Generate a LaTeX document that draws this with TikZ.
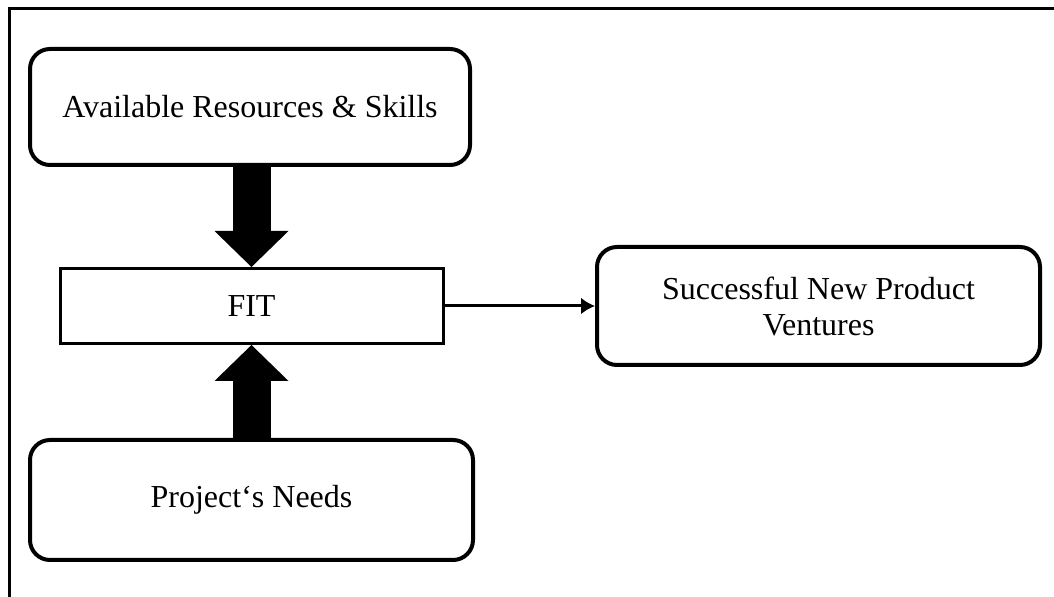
\documentclass[tikz,border=0pt]{standalone}
\usepackage{fontspec}
\setmainfont{Liberation Serif}
\usetikzlibrary{arrows.meta}
\tikzset{
    rbox/.style={draw, line width=2pt, rounded corners=10pt, align=center,
        font=\fontsize{16}{18}\selectfont},
    fitbox/.style={draw, line width=1.5pt, font=\fontsize{16}{18}\selectfont},
    bigarrow/.style={line width=19pt, -{Triangle[length=18pt,width=37pt,line width=0pt]}},
}

\begin{document}
\begin{tikzpicture}[x=0.5pt,y=-0.5pt]
			\useasboundingbox (0,0) rectangle (1054,597);
			\draw[line width=1.5pt] (9,597) -- (9,8.5) -- (1054,8.5);
			\node[rbox, minimum width=220pt, minimum height=58pt] (res) at (250,107) {Available Resources \& Skills};
			\node[fitbox, minimum width=191.5pt, minimum height=37.5pt] (fit) at (251.5,306) {FIT};
			\node[rbox, minimum width=221.5pt, minimum height=60pt] (need) at (251.5,500) {Project`s Needs};
			\node[rbox, minimum width=221.5pt, minimum height=59pt] (venture) at (818.5,306) {Successful New Product\\Ventures};
			\draw[bigarrow] (fit.north |- res.south) -- (fit.north);
			\draw[bigarrow] (fit.south |- need.north) -- (fit.south);
			\draw[line width=1.5pt, -{Latex[length=7pt,width=8.5pt]}] (fit) -- (venture);
		\end{tikzpicture}
\end{document}
